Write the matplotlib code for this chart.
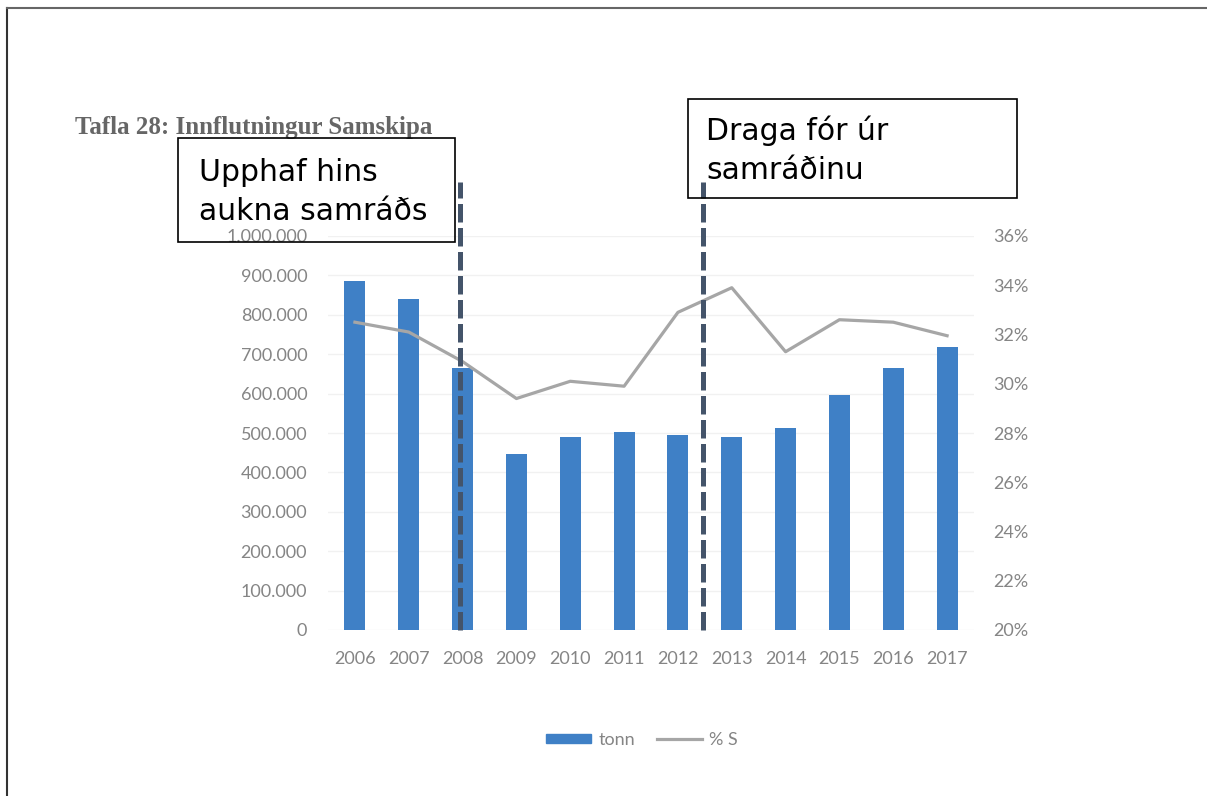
import matplotlib.pyplot as plt
from matplotlib.patches import Rectangle
from matplotlib.lines import Line2D
from matplotlib.ticker import FuncFormatter

# data
years = ["2006", "2007", "2008", "2009", "2010", "2011",
         "2012", "2013", "2014", "2015", "2016", "2017"]
tonn = [886000, 840000, 665000, 447000, 490000, 503000,
        495000, 490000, 513000, 596000, 665000, 718000]
pct_s = [32.5, 32.1, 30.9, 29.4, 30.1, 29.9,
         32.9, 33.9, 31.3, 32.6, 32.5, 31.95]
title = "Tafla 28: Innflutningur Samskipa"
note_start = "Upphaf hins\naukna samráðs"
note_end = "Draga fór úr\nsamráðinu"
marker_pos = [1.95, 6.47]   # category positions of the dashed markers

bar_color = "#3f80c6"
line_color = "#a6a6a6"
tick_color = "#858585"
dash_color = "#44546a"

fig = plt.figure(figsize=(12.07, 7.96), dpi=100)
W, H = 1207, 796

ax = fig.add_axes([328 / W, 1 - 630 / H, 646 / W, 394 / H])
x = range(len(years))
ax.bar(x, tonn, width=0.39, color=bar_color, zorder=2)
ax.set_xlim(-0.5, len(years) - 0.5)
ax.set_ylim(0, 1_000_000)
ax.set_yticks(range(0, 1_000_001, 100_000))
ax.yaxis.set_major_formatter(FuncFormatter(lambda v, p: f"{int(v):,}".replace(",", ".")))
ax.set_xticks(list(x))
ax.set_xticklabels(years)
ax.grid(axis="y", color="#f1f1f1", lw=1, zorder=0)
for s in ax.spines.values():
    s.set_visible(False)
ax.tick_params(axis="both", length=0, labelsize=13, labelcolor=tick_color)
ax.tick_params(axis="y", pad=15)
ax.tick_params(axis="x", pad=15)

ax2 = ax.twinx()
ax2.plot(x, pct_s, color=line_color, lw=2.3, zorder=3)
ax2.set_ylim(20, 36)
ax2.set_yticks(range(20, 37, 2))
ax2.yaxis.set_major_formatter(FuncFormatter(lambda v, p: f"{int(v)}%"))
for s in ax2.spines.values():
    s.set_visible(False)
ax2.tick_params(axis="y", length=0, labelsize=13, labelcolor=tick_color, pad=14)

for lab in ax.get_xticklabels() + ax.get_yticklabels() + ax2.get_yticklabels():
    lab.set_family("Lato")

# dashed event markers
for mx in marker_pos:
    ax2.plot([mx, mx], [20, 20 + 16 * 448 / 394], color=dash_color, lw=3.6,
             linestyle=(0, (3.7, 1.1)), clip_on=False, zorder=5)

# title
fig.text(75 / W, 1 - 134 / H, title, family="Liberation Serif", weight="bold",
         fontsize=18, color="#666666", va="baseline", ha="left")

# annotation boxes (transparent, as in the reference)
def note(x0, y0, x1, y1, text, tx, ty):
    fig.add_artist(Rectangle((x0 / W, 1 - y1 / H), (x1 - x0) / W, (y1 - y0) / H,
                             transform=fig.transFigure, facecolor="none",
                             edgecolor="black", lw=1.2, zorder=10))
    fig.text(tx / W, 1 - ty / H, text, fontsize=21.5, family="DejaVu Sans",
             color="black", va="top", ha="left", linespacing=1.42, zorder=11)

note(178, 138, 455, 242, note_start, 199, 158)
note(688, 99, 1017, 198, note_end, 706, 116)

# legend
handles = [Rectangle((0, 0), 1, 1, color=bar_color),
           Line2D([0], [0], color=line_color, lw=2.3)]
leg = fig.legend(handles, ["tonn", "% S"], loc="center",
                 bbox_to_anchor=(642 / W, 1 - 740 / H), ncol=2, frameon=False,
                 handlelength=2.5, handleheight=0.45, handletextpad=0.4,
                 columnspacing=1.2, prop={"family": "Lato", "size": 13})
for t in leg.get_texts():
    t.set_color(tick_color)

# page border (top and left)
fig.add_artist(Line2D([7 / W, 7 / W], [0, 1 - 8 / H], transform=fig.transFigure,
                      color="#333333", lw=1.5))
fig.add_artist(Line2D([7 / W, 1], [1 - 8 / H, 1 - 8 / H], transform=fig.transFigure,
                      color="#666666", lw=1.5))

fig.savefig("out.png", dpi=100)
